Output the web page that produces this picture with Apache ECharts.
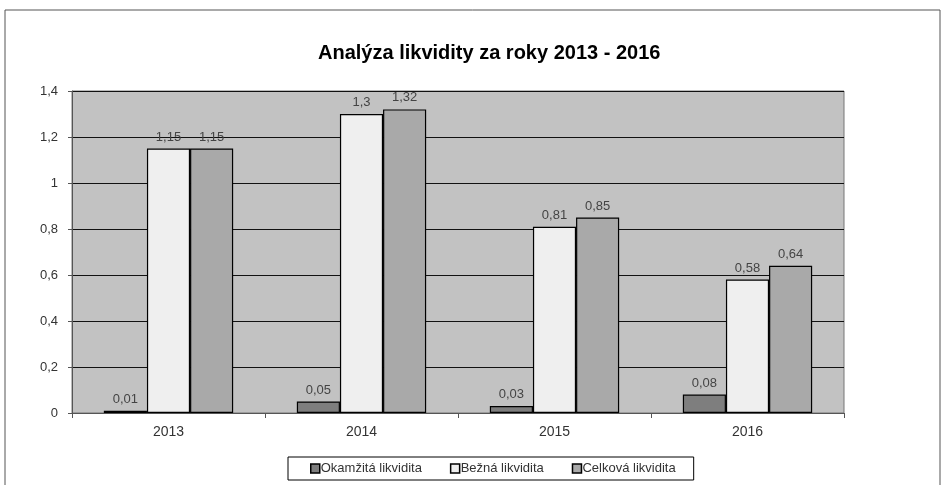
<!DOCTYPE html>
<html>
<head>
<meta charset="utf-8">
<script src="https://cdn.jsdelivr.net/npm/echarts@6/dist/echarts.min.js"></script>
<style>
  html, body { margin: 0; padding: 0; background: #fff; }
  #chart { width: 946px; height: 485px; }
</style>
</head>
<body>
<div id="chart"></div>
<script>
const years = ['2013', '2014', '2015', '2016']
const okamzita = [0.01, 0.05, 0.03, 0.08]
const bezna = [1.15, 1.3, 0.81, 0.58]
const celkova = [1.15, 1.32, 0.85, 0.64]
const seriesNames = ['Okamžitá likvidita', 'Bežná likvidita', 'Celková likvidita']

const comma = v => String(v).replace('.', ',')

const chart = echarts.init(document.getElementById('chart'))

function bar(name, data, color) {
  return {
    name: name,
    type: 'bar',
    data: data,
    barGap: 0,
    barCategoryGap: '33%',
    itemStyle: { color: color, borderColor: '#000', borderWidth: 1.2 },
    label: {
      show: true,
      position: 'top',
      distance: 5,
      color: '#444',
      fontSize: 13,
      formatter: p => comma(p.value)
    }
  }
}

chart.setOption({
  animation: false,
  textStyle: { fontFamily: 'Liberation Sans' },
  title: {
    text: 'Analýza likvidity za roky 2013 - 2016',
    left: 313,
    top: 38,
    textStyle: { fontSize: 20, fontWeight: 'bold', color: '#000' }
  },
  graphic: [{
    type: 'rect',
    shape: { x: 5, y: 10, width: 935, height: 480 },
    style: { fill: 'none', stroke: '#555', lineWidth: 1 },
    silent: true
  }],
  grid: {
    left: 72,
    right: 102,
    top: 91,
    bottom: 72,
    show: true,
    backgroundColor: '#c2c2c2',
    borderColor: '#777',
    borderWidth: 1
  },
  legend: {
    top: 457,
    left: 288,
    itemWidth: 9,
    itemHeight: 9,
    itemGap: 28,
    icon: 'rect',
    borderColor: '#000',
    borderWidth: 1,
    padding: [5, 18, 5, 22],
    itemStyle: { borderColor: '#000', borderWidth: 1.5 },
    textStyle: { fontSize: 13, color: '#333', padding: [0, 0, 0, -4] },
    data: seriesNames
  },
  xAxis: {
    type: 'category',
    data: years,
    axisLine: { lineStyle: { color: '#555' } },
    axisTick: { show: true, alignWithLabel: false, lineStyle: { color: '#555' } },
    axisLabel: { color: '#333', fontSize: 14, margin: 12 }
  },
  yAxis: {
    type: 'value',
    min: 0,
    max: 1.4,
    interval: 0.2,
    axisLine: { show: true, lineStyle: { color: '#555' } },
    axisTick: { show: true, length: 4, lineStyle: { color: '#555' } },
    axisLabel: { color: '#333', fontSize: 13, margin: 14, formatter: v => comma(Math.round(v * 10) / 10) },
    splitLine: { lineStyle: { color: '#111', width: 1 } }
  },
  series: [
    bar(seriesNames[0], okamzita, '#7e7e7e'),
    bar(seriesNames[1], bezna, '#efefef'),
    bar(seriesNames[2], celkova, '#a9a9a9')
  ]
})
</script>
</body>
</html>
